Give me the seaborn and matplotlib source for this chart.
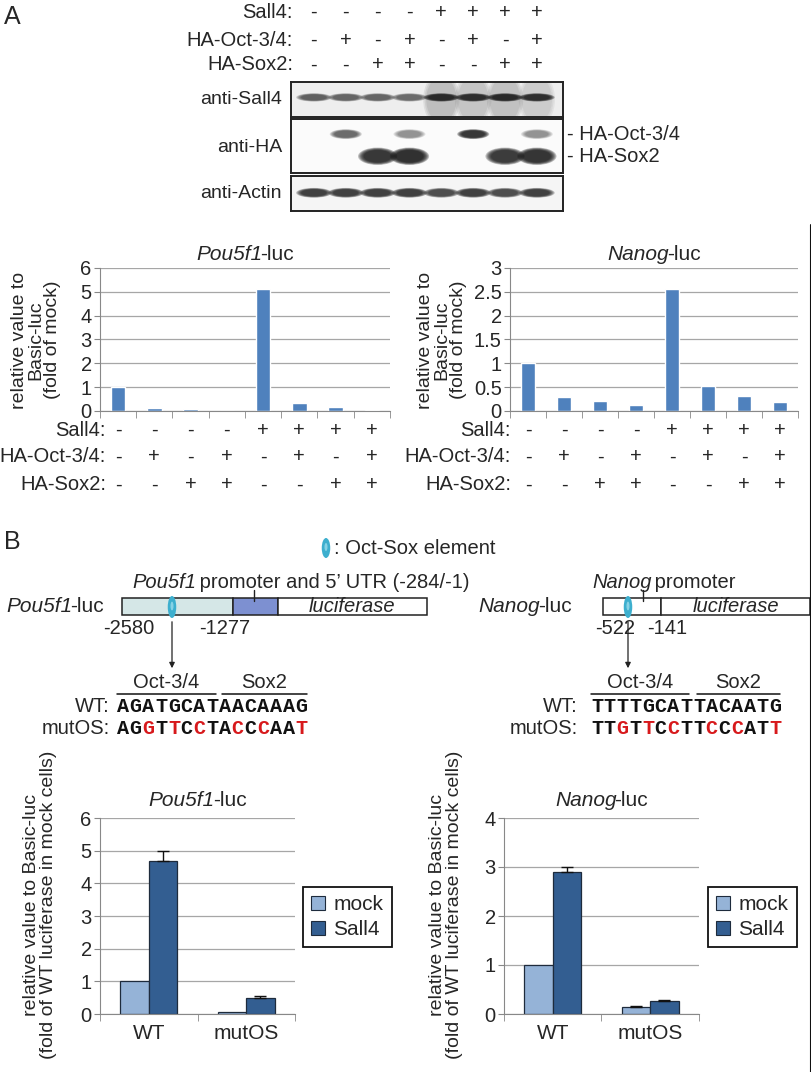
import numpy as np
import pandas as pd
import seaborn as sns
import matplotlib.pyplot as plt
from matplotlib.patches import Ellipse, Rectangle
from matplotlib.transforms import blended_transform_factory as blend

# ---------------- data ----------------
lanes = ["1", "2", "3", "4", "5", "6", "7", "8"]
row_names = ["Sall4:", "HA-Oct-3/4:", "HA-Sox2:"]
sall4_row = ["-", "-", "-", "-", "+", "+", "+", "+"]
oct_row = ["-", "+", "-", "+", "-", "+", "-", "+"]
sox_row = ["-", "-", "+", "+", "-", "-", "+", "+"]

# western blot band intensities (0-1) per lane
blot_sall4 = [0.55, 0.52, 0.52, 0.48, 0.97, 0.92, 0.97, 0.92]
blot_smear = [0.0, 0.0, 0.0, 0.0, 0.6, 0.5, 0.55, 0.4]
blot_ha_oct = [0.0, 0.5, 0.0, 0.32, 0.0, 0.9, 0.0, 0.32]
blot_ha_sox = [0.0, 0.0, 0.9, 0.98, 0.0, 0.0, 0.85, 0.92]
blot_actin = [0.8, 0.78, 0.78, 0.8, 0.68, 0.78, 0.68, 0.78]

pou5f1_a = [1.0, 0.13, 0.08, 0.02, 5.12, 0.33, 0.15, 0.03]
nanog_a = [1.0, 0.29, 0.20, 0.13, 2.55, 0.52, 0.32, 0.19]

constructs = ["WT", "mutOS"]
groups = ["mock", "Sall4"]
pou5f1_b_mock = [1.0, 0.06]
pou5f1_b_sall4 = [4.68, 0.48]
pou5f1_b_mock_err = [0.0, 0.0]
pou5f1_b_sall4_err = [0.30, 0.08]
nanog_b_mock = [1.0, 0.15]
nanog_b_sall4 = [2.89, 0.27]
nanog_b_mock_err = [0.0, 0.01]
nanog_b_sall4_err = [0.11, 0.01]

pou5f1_wt_seq = "AGATGCATAACAAAG"
pou5f1_mut_seq = "AGGTTCCTACCCAAT"
nanog_wt_seq = "TTTTGCATTACAATG"
nanog_mut_seq = "TTGTTCCTTCCCATT"

# ---------------- setup ----------------
W, H = 812, 1072
sns.set_style("white")
plt.rcParams['font.family'] = ['Liberation Sans', 'DejaVu Sans']
FS = 14.5

fig = plt.figure(figsize=(W / 100, H / 100), dpi=100)
over = fig.add_axes([0, 0, 1, 1])
over.set_xlim(0, W)
over.set_ylim(H, 0)
over.axis('off')
renderer = fig.canvas.get_renderer()


def px_axes(x0, y0, x1, y1):
    return fig.add_axes([x0 / W, 1 - y1 / H, (x1 - x0) / W, (y1 - y0) / H])


def rich(x, y, parts, ha='left', size=FS):
    """Text made of (string, style) parts set side by side."""
    texts = [over.text(0, y, s, style=st, fontsize=size, ha='left', va='center')
             for s, st in parts]
    widths = [t.get_window_extent(renderer).width - (2.0 if st == 'italic' else 0)
              for t, (s, st) in zip(texts, parts)]
    total = sum(widths)
    cur = {'left': x, 'center': x - total / 2, 'right': x - total}[ha]
    for t, w in zip(texts, widths):
        t.set_x(cur)
        cur += w


def band(ax, x, y, w, h, inten, layers=6, grow=0.08):
    for k in range(layers):
        f = 1 + grow * k
        ax.add_patch(Ellipse((x, y), w * f, h * f, facecolor='#101010',
                             alpha=inten * 0.28, lw=0))


def blot_panel(y0, y1, bg):
    ax = px_axes(291, y0, 563, y1)
    ax.set_xlim(-0.72, 7.82)
    ax.set_ylim(0, 1)
    ax.set_xticks([])
    ax.set_yticks([])
    ax.set_facecolor(bg)
    for s in ax.spines.values():
        s.set_linewidth(1.4)
        s.set_color('#222222')
    return ax


# ---------------- panel A: blot ----------------
over.text(4, 17, "A", fontsize=18, va='center', ha='left')

ax_s = blot_panel(82, 117, '#EEEEEE')
for i, (v, sm) in enumerate(zip(blot_sall4, blot_smear)):
    if sm > 0:
        band(ax_s, i, 0.5, 0.95, 1.3, sm * 0.45, layers=3, grow=0.1)
    band(ax_s, i, 0.56, 0.8, 0.17, v)

ax_h = blot_panel(119, 173, '#FBFBFB')
for i, (o, s) in enumerate(zip(blot_ha_oct, blot_ha_sox)):
    if o > 0:
        band(ax_h, i, 0.72, 0.72, 0.13, o)
    if s > 0:
        band(ax_h, i, 0.31, 0.88, 0.23, s)

ax_ac = blot_panel(176, 211, '#F5F5F5')
for i, v in enumerate(blot_actin):
    band(ax_ac, i, 0.52, 0.8, 0.2, v)

lane_tr = blend(ax_s.transData, over.transData)
for y, name, row in zip([12, 40, 65], row_names, [sall4_row, oct_row, sox_row]):
    over.text(293, y, name, ha='right', va='center', fontsize=FS)
    for i, s in enumerate(row):
        over.text(i, y, s, transform=lane_tr, ha='center', va='center', fontsize=FS)

for y, name in zip([100, 147, 193], ["anti-Sall4", "anti-HA", "anti-Actin"]):
    over.text(282, y, name, ha='right', va='center', fontsize=FS - 0.5)
over.text(567, 134, "- HA-Oct-3/4", ha='left', va='center', fontsize=FS)
over.text(567, 156, "- HA-Sox2", ha='left', va='center', fontsize=FS)


# ---------------- panel A: bar charts ----------------
def chart_a(x0, x1, vals, ymax, step, gene, lab_right, ylab_x):
    ax = px_axes(x0, 268, x1, 411)
    df = pd.DataFrame({'lane': lanes, 'value': vals})
    sns.barplot(data=df, x='lane', y='value', color='#4F81BD', saturation=1,
                width=0.4, ax=ax)
    ax.set_xlim(-0.5, 7.5)
    ax.set_ylim(0, ymax)
    ticks = np.arange(0, ymax + 1e-9, step)
    ax.set_yticks(ticks)
    ax.set_yticklabels([f"{t:g}" for t in ticks])
    ax.set_xticks(range(8))
    ax.set_xticklabels([])
    ax.set_xticks(np.arange(-0.5, 8, 1), minor=True)
    ax.tick_params(axis='x', which='major', length=0)
    ax.tick_params(axis='x', which='minor', bottom=True, length=5, color='#888888')
    ax.tick_params(axis='y', left=True, length=4, color='#888888', labelsize=FS, pad=2)
    ax.yaxis.grid(True, color='#A6A6A6', lw=0.9)
    ax.set_axisbelow(True)
    sns.despine(ax=ax)
    for s in ['left', 'bottom']:
        ax.spines[s].set_color('#888888')
    ax.set_xlabel('')
    ax.set_ylabel('')
    rich((x0 + x1) / 2, 254, [(gene, 'italic'), ("-luc", 'normal')], ha='center',
         size=FS + 0.5)
    tr = blend(ax.transData, over.transData)
    for y, name, row in zip([430, 457, 485], row_names, [sall4_row, oct_row, sox_row]):
        over.text(lab_right, y, name, ha='right', va='center', fontsize=FS)
        for i, s in enumerate(row):
            over.text(i, y, s, transform=tr, ha='center', va='center', fontsize=FS)
    over.text(ylab_x, 340, "relative value to\nBasic-luc\n(fold of mock)", rotation=90,
              ha='center', va='center', multialignment='center', linespacing=0.95,
              fontsize=FS - 0.5)
    return ax


chart_a(100, 390, pou5f1_a, 6, 1, "Pou5f1", 106, 36)
chart_a(510, 798, nanog_a, 3, 0.5, "Nanog", 511, 442)

# ---------------- panel B: diagrams ----------------
over.text(4, 542, "B", fontsize=18, va='center', ha='left')


def octsox(x, y, h=22):
    over.add_patch(Ellipse((x, y), 8.5, h, facecolor='#3DAFCE', edgecolor='none',
                           zorder=5))
    over.add_patch(Ellipse((x, y - 1), 3.0, h * 0.4, facecolor='#A8E2F0',
                           edgecolor='none', zorder=6, alpha=0.7))


octsox(326, 548, 20)
over.text(334, 548, ": Oct-Sox element", ha='left', va='center', fontsize=FS)

y_oct, y_wt, y_mut = 682, 706, 729


def seq_rows(x_lab, x_seq, wt, mut):
    over.text(x_lab, y_wt, "WT:", ha='right', va='center', fontsize=FS)
    over.text(x_lab, y_mut, "mutOS:", ha='right', va='center', fontsize=FS)
    cw = 12.75
    for k, (a, b) in enumerate(zip(wt, mut)):
        over.text(x_seq + k * cw, y_wt, a, ha='left', va='center', fontsize=14.5,
                  family='Liberation Mono', weight='bold', color='#111111')
        over.text(x_seq + k * cw, y_mut, b, ha='left', va='center', fontsize=14.5,
                  family='Liberation Mono', weight='bold',
                  color='#D7191C' if a != b else '#111111')


def overline(x0, x1, label):
    over.plot([x0, x1], [y_oct + 12, y_oct + 12], color='#111111', lw=1.1)
    over.text((x0 + x1) / 2, y_oct, label, ha='center', va='center', fontsize=FS)


box_y0, box_y1 = 598, 615
# Pou5f1-luc construct
rich(104, 607, [("Pou5f1", 'italic'), ("-luc", 'normal')], ha='right', size=FS + 0.5)
for xa, xb, fc in [(122, 233, '#D5E7E7'), (233, 278, '#7D90D1'), (278, 427, 'white')]:
    over.add_patch(Rectangle((xa, box_y0), xb - xa, box_y1 - box_y0, facecolor=fc,
                             edgecolor='#222222', lw=1.1))
over.text(352, 606, "luciferase", style='italic', ha='center', va='center', fontsize=FS)
over.plot([254, 254], [590, 601], color='#222222', lw=1)
rich(132, 583, [("Pou5f1", 'italic'), (" promoter and 5’ UTR (-284/-1)", 'normal')])
octsox(172, 607)
over.text(129, 629, "-2580", ha='center', va='center', fontsize=FS)
over.text(225, 629, "-1277", ha='center', va='center', fontsize=FS)
over.annotate('', xy=(172, y_oct - 11), xytext=(172, 619),
              arrowprops=dict(arrowstyle='-|>', color='#222222', lw=0.9, mutation_scale=8))
overline(117, 216, "Oct-3/4")
overline(222, 307, "Sox2")
seq_rows(110, 117, pou5f1_wt_seq, pou5f1_mut_seq)

# Nanog-luc construct
rich(572, 607, [("Nanog", 'italic'), ("-luc", 'normal')], ha='right', size=FS + 0.5)
for xa, xb in [(603, 661), (661, 810)]:
    over.add_patch(Rectangle((xa, box_y0), xb - xa, box_y1 - box_y0, facecolor='white',
                             edgecolor='#222222', lw=1.1))
over.text(736, 606, "luciferase", style='italic', ha='center', va='center', fontsize=FS)
over.plot([643, 643], [590, 601], color='#222222', lw=1)
rich(592, 583, [("Nanog", 'italic'), (" promoter", 'normal')])
octsox(628, 607)
over.text(615, 629, "-522", ha='center', va='center', fontsize=FS)
over.text(667, 629, "-141", ha='center', va='center', fontsize=FS)
over.annotate('', xy=(628, y_oct - 11), xytext=(628, 619),
              arrowprops=dict(arrowstyle='-|>', color='#222222', lw=0.9, mutation_scale=8))
overline(591, 689, "Oct-3/4")
overline(697, 780, "Sox2")
seq_rows(578, 591, nanog_wt_seq, nanog_mut_seq)


# ---------------- panel B: bar charts ----------------
def chart_b(x0, x1, mock, sall4, mock_err, sall4_err, ymax, gene, ylab_x, leg_x):
    ax = px_axes(x0, 818, x1, 1014)
    df = pd.DataFrame({'construct': constructs * 2,
                       'group': [groups[0]] * 2 + [groups[1]] * 2,
                       'value': mock + sall4})
    sns.barplot(data=df, x='construct', y='value', hue='group',
                palette=['#95B3D7', '#335E91'], saturation=1, width=0.58,
                edgecolor='#1E2B3C', linewidth=0.9, errorbar=None, ax=ax)
    for cont, errs in zip(ax.containers, [mock_err, sall4_err]):
        for bar, e in zip(cont, errs):
            if e > 0:
                ax.errorbar(bar.get_x() + bar.get_width() / 2, bar.get_height(),
                            yerr=[[0], [e]], color='#111111', capsize=4, lw=1,
                            capthick=1)
    ax.set_xlim(-0.5, 1.5)
    ax.set_ylim(0, ymax)
    ax.set_yticks(range(ymax + 1))
    ax.set_xticks([-0.5, 0.5, 1.5], minor=True)
    ax.tick_params(axis='x', which='major', length=0, labelsize=FS + 0.5, pad=7)
    ax.tick_params(axis='x', which='minor', bottom=True, length=5, color='#888888')
    ax.tick_params(axis='y', left=True, length=4, color='#888888', labelsize=FS, pad=2)
    ax.yaxis.grid(True, color='#A6A6A6', lw=0.9)
    ax.set_axisbelow(True)
    sns.despine(ax=ax)
    for s in ['left', 'bottom']:
        ax.spines[s].set_color('#888888')
    ax.set_xlabel('')
    ax.set_ylabel('')
    rich((x0 + x1) / 2, 801, [(gene, 'italic'), ("-luc", 'normal')], ha='center',
         size=FS + 0.5)
    handles, labels = ax.get_legend_handles_labels()
    for hnd in handles:
        hnd.set_edgecolor('#1E2B3C')
        hnd.set_linewidth(0.8)
    leg = ax.legend(handles, labels, loc='center left', bbox_to_anchor=(leg_x, 917),
                    bbox_transform=over.transData, frameon=True, fancybox=False,
                    edgecolor='#111111', framealpha=1, fontsize=FS + 0.5,
                    handlelength=0.65, handleheight=0.65, handletextpad=0.4,
                    borderpad=0.4, labelspacing=0.3, borderaxespad=0)
    leg.get_frame().set_linewidth(1.3)
    over.text(ylab_x, 905,
              "relative value to Basic-luc\n(fold of WT luciferase in mock cells)",
              rotation=90, ha='center', va='center', multialignment='center',
              linespacing=1.05, fontsize=FS - 0.5)
    return ax


chart_b(100, 295, pou5f1_b_mock, pou5f1_b_sall4, pou5f1_b_mock_err, pou5f1_b_sall4_err,
        6, "Pou5f1", 40, 303)
chart_b(504, 699, nanog_b_mock, nanog_b_sall4, nanog_b_mock_err, nanog_b_sall4_err,
        4, "Nanog", 446, 708)

# right border of the original figure
over.plot([811, 811], [225, H], color='#111111', lw=1.5)

fig.savefig("out.png", dpi=100)
